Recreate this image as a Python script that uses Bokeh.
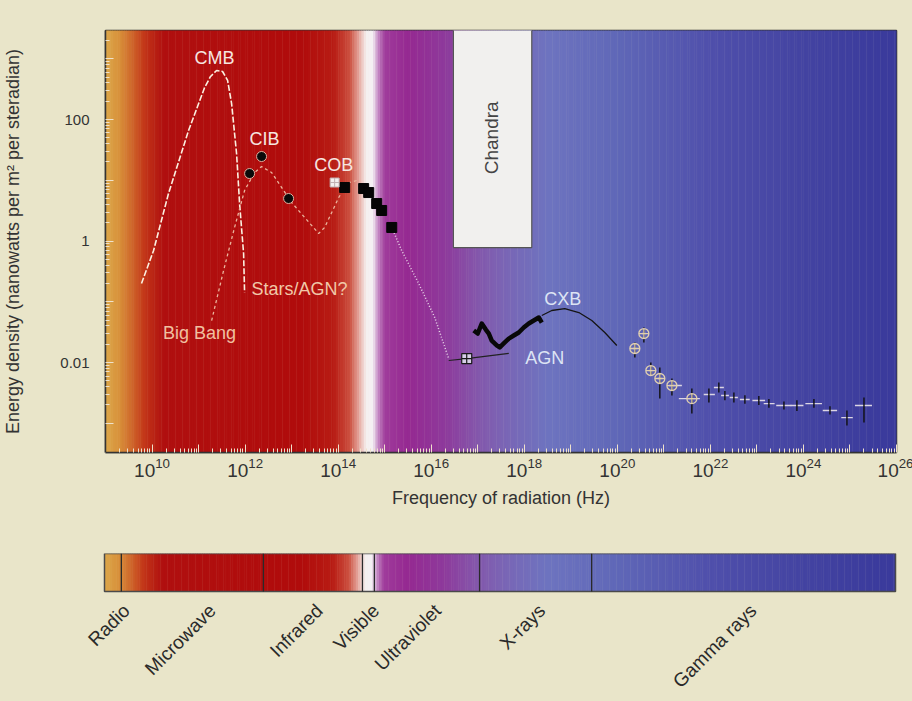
import numpy as np
from bokeh.plotting import figure
from bokeh.models import Range1d, FixedTicker, LogTickFormatter
from bokeh.embed import file_html
from bokeh.resources import INLINE
from bokeh.core.properties import value

# ---------------- data (frequency in Hz, energy density in nW m^-2 sr^-1) ----------------
cmb_freq = [5.94e9, 1.08e10, 2.26e10, 6.10e10, 1.35e11, 1.81e11, 2.44e11, 3.28e11, 4.21e11,
            5.13e11, 6.56e11, 7.62e11, 9.29e11, 9.75e11]
cmb_energy = [0.200, 0.698, 6.05, 65.9, 336, 511, 641, 617, 439, 183, 27.5, 4.14, 0.622, 0.142]

stars_freq = [1.91e11, 3.45e11, 5.94e11, 9.75e11, 1.60e12, 2.26e12, 3.72e12, 1.0e13, 1.91e13,
              3.81e13, 5.13e13, 1.03e14, 1.52e14, 2.50e14]
stars_energy = [0.0491, 0.327, 1.67, 6.78, 13.4, 16.8, 13.4, 4.31, 2.44, 1.33, 1.67, 5.20, 8.85, 9.91]

cib_freq = [1.25e12, 2.26e12, 8.61e12]
cib_energy = [12.9, 24.6, 5.01]

cob_open_freq = [8.41e13]
cob_open_energy = [9.18]
cob_freq = [1.38e14, 3.53e14, 4.53e14, 6.73e14, 8.61e14, 1.42e15]
cob_energy = [7.60, 7.31, 6.28, 4.14, 3.18, 1.67]

uv_freq = [1.42e15, 2.32e15, 5.38e15, 1.19e16, 2.38e16]
uv_energy = [1.67, 0.698, 0.200, 0.0551, 0.0116]

agn_freq = [2.38e16, 5.80e16, 4.65e17]
agn_energy = [0.0108, 0.0116, 0.0141]
agn_point_freq = [5.80e16]
agn_point_energy = [0.0116]

cxb_data_freq = [8.20e16, 1.0e17, 1.22e17, 1.49e17, 1.73e17, 2.00e17, 2.56e17, 2.97e17, 3.62e17,
                 4.65e17, 5.94e17, 7.62e17, 9.75e17, 1.25e18, 1.60e18, 2.05e18, 2.38e18]
cxb_data_energy = [0.0337, 0.0300, 0.0439, 0.0349, 0.0300, 0.0230, 0.0191, 0.0177, 0.0206,
                   0.0248, 0.0278, 0.0312, 0.0377, 0.0439, 0.0491, 0.0551, 0.0455]

cxb_model_freq = [2.38e18, 3.90e18, 7.43e18, 1.49e19, 2.83e19, 5.38e19, 9.75e19]
cxb_model_energy = [0.0594, 0.0718, 0.0774, 0.0665, 0.0491, 0.0312, 0.0191]

gamma_freq = [2.38e20, 3.72e20, 5.25e20, 8.20e20, 1.49e21, 4.0e21, 9.29e21, 1.52e22, 2.05e22,
              3.2e22, 5.52e22, 1.10e23, 1.81e23, 3.81e23, 7.24e23, 1.68e24, 3.72e24, 8.61e24, 2.0e25]
gamma_energy = [0.0170, 0.0300, 0.00738, 0.00546, 0.00418, 0.00255, 0.00297, 0.00387, 0.00286,
                0.00265, 0.00246, 0.00237, 0.00211, 0.00196, 0.00196, 0.00211, 0.00162, 0.00124, 0.00196]
gamma_low = [0.0121, 0.0213, 0.00611, 0.00255, 0.00286, 0.00145, 0.0022, 0.00321, 0.0024,
             0.0022, 0.0021, 0.0020, 0.0018, 0.00168, 0.0016, 0.0018, 0.0014, 0.00092, 0.00103]
gamma_high = [0.0213, 0.0377, 0.0100, 0.00828, 0.00546, 0.00373, 0.00373, 0.00469, 0.0034,
              0.0032, 0.0029, 0.0028, 0.0025, 0.00228, 0.0024, 0.0025, 0.0019, 0.00162, 0.00265]
gamma_freq_low = [2.2e20, 3.45e20, 4.9e20, 7.6e20, 1.28e21, 2.10e21, 7.2e21, 1.19e22, 1.7e22,
                  2.6e22, 4.3e22, 8.0e22, 1.4e23, 2.6e23, 5.3e23, 1.1e24, 2.6e24, 6.5e24, 1.28e25]
gamma_freq_high = [2.55e20, 4.0e20, 5.6e20, 8.8e20, 2.44e21, 5.94e21, 1.25e22, 1.95e22, 2.5e22,
                   3.9e22, 7.0e22, 1.5e23, 2.4e23, 5.5e23, 1.0e24, 2.5e24, 5.3e24, 1.15e25, 2.97e25]
gamma_circled = 6   # first points drawn with circled markers

chandra_band = [3.0e16, 1.45e18]
chandra_floor = 0.78

# background colour stops (log10 frequency, colour)
bg_stop_exp = [9.0, 9.3, 9.55, 9.85, 10.25, 13.2, 13.9, 14.25, 14.45, 14.6, 14.75, 14.85, 15.0,
               15.5, 16.3, 17.0, 17.6, 18.5, 20.0, 22.0, 24.0, 26.0]
bg_stop_color = ["#dca84a", "#d8903a", "#d06a2c", "#c23418", "#b01010", "#b00c0c", "#b81c14",
                 "#cc5040", "#e6a8a0", "#f6f0f0", "#f4f0f4", "#c890c8", "#a03c9c", "#962a92",
                 "#8e3a9c", "#8458ac", "#7a66b6", "#6e74c0", "#6068b8", "#5050ac", "#4444a2", "#3a3a9c"]

band_edges = [2.3e9, 2.6e12, 3.5e14, 6.3e14, 1.15e17, 2.95e19]
band_names = ["Radio", "Microwave", "Infrared", "Visible", "Ultraviolet", "X-rays", "Gamma rays"]
band_label_freq = [2.97e9, 2.09e11, 4.17e13, 6.8e14, 1.45e16, 2.5e18, 8.7e22]

x_tick_exponents = list(range(9, 27))
y_tick_exponents = list(range(-3, 4))
y_tick_text = {0.01: "0.01", 1.0: "1", 100.0: "100"}

# ---------------- styling constants ----------------
FONT = value("Liberation Sans")
PAPER = "#e9e5c9"
INK = "#333333"

XMIN_EXP, XMAX_EXP = 9.0, 26.0
YMIN_EXP, YMAX_EXP = -3.481, 3.465
FRAME_W, FRAME_H = 791, 422
LEFT, RIGHT, TOP, BOTTOM = 104, 17, 30, 63
PAGE_W = LEFT + FRAME_W + RIGHT


def hex_to_rgb(h):
    return [int(h[i:i + 2], 16) for i in (1, 3, 5)]


stop_rgb = np.array([hex_to_rgb(c) for c in bg_stop_color], dtype=float)
edges = np.linspace(XMIN_EXP, XMAX_EXP, 341)
mids = 0.5 * (edges[:-1] + edges[1:])
slice_colors = []
for m in mids:
    r, g, b = (np.interp(m, bg_stop_exp, stop_rgb[:, k]) for k in range(3))
    slice_colors.append("#%02x%02x%02x" % (int(r), int(g), int(b)))
slice_left = list(10.0 ** edges[:-1])
slice_right = list(10.0 ** (edges[1:] + 0.01))

# ---------------- main figure ----------------
p = figure(frame_width=FRAME_W, frame_height=FRAME_H, x_axis_type="log", y_axis_type="log",
           x_range=Range1d(10 ** XMIN_EXP, 10 ** XMAX_EXP),
           y_range=Range1d(10 ** YMIN_EXP, 10 ** YMAX_EXP),
           min_border_left=LEFT, min_border_right=RIGHT, min_border_top=TOP,
           min_border_bottom=BOTTOM, toolbar_location=None, output_backend="svg")
p.border_fill_color = PAPER
p.background_fill_color = PAPER
p.outline_line_color = INK
p.outline_line_width = 1.5
p.grid.visible = False

# background gradient
p.quad(left=slice_left, right=slice_right, bottom=1e-5, top=1e5,
       fill_color=slice_colors, line_color=None)

# Chandra band
p.quad(left=[chandra_band[0]], right=[chandra_band[1]], bottom=[chandra_floor], top=[1e5],
       fill_color="#f1f0ee", line_color="#555555", line_width=1.2)
p.text(x=[10 ** 17.30], y=[50], text=["Chandra"], angle=np.pi / 2, text_align="center",
       text_baseline="middle", text_font=FONT, text_font_size="19px", text_color="#444444")

# CMB
p.line(cmb_freq, cmb_energy, line_color="#fbf0e0", line_width=1.6, line_dash="6 2")
# stars / CIB-COB model
p.line(stars_freq, stars_energy, line_color="#eab49c", line_width=1.3, line_dash="3 3")
# UV fall-off
p.line(uv_freq, uv_energy, line_color="#e8d6e8", line_width=1.5, line_dash="1 2")
# AGN model
p.line(agn_freq, agn_energy, line_color="#222222", line_width=1.2)
# CXB model and data
p.line(cxb_model_freq, cxb_model_energy, line_color="#151515", line_width=1.3)
p.line(cxb_data_freq, cxb_data_energy, line_color="#080808", line_width=4.5, line_join="round")

# CIB / COB points
p.scatter(cib_freq, cib_energy, marker="circle", size=10, fill_color="#0a0a0a",
          line_color="#e0b0a0", line_width=1)
p.scatter(cob_freq, cob_energy, marker="square", size=10, fill_color="#050505", line_color="#050505")
p.scatter(cob_open_freq, cob_open_energy, marker="square_cross", size=9, fill_color="#f4f0ee",
          line_color="#c0b0b0", line_width=1)
p.scatter(agn_point_freq, agn_point_energy, marker="square_cross", size=10, fill_color="#d8d0e8",
          line_color="#1a1a1a", line_width=1.2)

# gamma-ray points with error bars
p.segment(x0=gamma_freq_low, y0=gamma_energy, x1=gamma_freq_high, y1=gamma_energy,
          line_color="#dcd6e4", line_width=1.4)
p.segment(x0=gamma_freq, y0=gamma_low, x1=gamma_freq, y1=gamma_high,
          line_color="#101010", line_width=1.4)
p.scatter(gamma_freq[:gamma_circled], gamma_energy[:gamma_circled], marker="circle_cross",
          size=10, fill_alpha=0, line_color="#e0cfb0", line_width=1.3)

# curve labels
p.text(x=[10 ** 11.344, 10 ** 12.419, 10 ** 13.903], y=[10 ** 3.02, 10 ** 1.671, 10 ** 1.259],
       text=["CMB", "CIB", "COB"], text_align="center", text_baseline="middle",
       text_font=FONT, text_font_size="18px", text_color="#f6e6e0")
p.text(x=[10 ** 12.14], y=[10 ** -0.782], text=["Stars/AGN?"], text_align="left",
       text_baseline="middle", text_font=FONT, text_font_size="18px", text_color="#f0c8a8")
p.text(x=[10 ** 11.022], y=[10 ** -1.506], text=["Big Bang"], text_align="center",
       text_baseline="middle", text_font=FONT, text_font_size="18px", text_color="#f0c0a0")
p.text(x=[10 ** 18.828, 10 ** 18.441], y=[10 ** -0.947, 10 ** -1.918], text=["CXB", "AGN"],
       text_align="center", text_baseline="middle", text_font=FONT, text_font_size="18px",
       text_color="#dde4f4")

# axes
xmaj = [10.0 ** k for k in x_tick_exponents]
xmin = [m * 10.0 ** k for k in x_tick_exponents[:-1] for m in range(2, 10)]
p.xaxis.ticker = FixedTicker(ticks=xmaj, minor_ticks=xmin)
p.xaxis.formatter = LogTickFormatter()
p.xaxis.major_label_overrides = {10.0 ** k: "" for k in x_tick_exponents if k % 2 == 1}
ymaj = [10.0 ** k for k in y_tick_exponents]
ymin = [m * 10.0 ** k for k in y_tick_exponents[:-1] for m in range(2, 10)] + [2000.0]
p.yaxis.ticker = FixedTicker(ticks=ymaj, minor_ticks=ymin)
p.yaxis.major_label_overrides = {t: y_tick_text.get(t, "") for t in ymaj}

for ax in (p.xaxis[0], p.yaxis[0]):
    ax.axis_line_color = INK
    ax.axis_line_width = 1.5
    ax.major_tick_in = 8
    ax.major_tick_out = 0
    ax.minor_tick_in = 4
    ax.minor_tick_out = 0
    ax.major_tick_line_color = "#efe2cc"
    ax.minor_tick_line_color = "#efe2cc"
    ax.major_label_text_font = "Liberation Sans"
    ax.major_label_text_color = INK
    ax.axis_label_text_font = "Liberation Sans"
    ax.axis_label_text_font_style = "normal"
    ax.axis_label_text_font_size = "18px"
    ax.axis_label_text_color = INK

p.xaxis.axis_label = "Frequency of radiation (Hz)"
p.xaxis.major_label_text_font_size = "19px"
p.xaxis.major_label_standoff = 5
p.xaxis.axis_label_standoff = 8
p.yaxis.axis_label = "Energy density (nanowatts per m\u00b2 per steradian)"
p.yaxis.major_label_text_font_size = "15px"
p.yaxis.major_label_standoff = 16
p.yaxis.axis_label_standoff = 34

# ---------------- spectrum bar ----------------
BAR_TOP_BORDER = 38
BAR_FRAME_H = 148
BAR_PX = 38
px_per_dec = FRAME_W / (XMAX_EXP - XMIN_EXP)
bar_xmin = XMIN_EXP - LEFT / px_per_dec
bar_xmax = XMAX_EXP + RIGHT / px_per_dec
bar = figure(frame_width=PAGE_W, frame_height=BAR_FRAME_H, x_axis_type="log",
             x_range=Range1d(10 ** bar_xmin, 10 ** bar_xmax),
             y_range=Range1d(-(BAR_FRAME_H - BAR_PX) / BAR_PX, 1),
             x_axis_location=None, y_axis_location=None,
             min_border_left=0, min_border_right=0, min_border_top=BAR_TOP_BORDER,
             min_border_bottom=0, toolbar_location=None, output_backend="svg")
bar.border_fill_color = PAPER
bar.background_fill_color = PAPER
bar.outline_line_color = None
bar.grid.visible = False

bar.quad(left=slice_left, right=slice_right, bottom=0, top=1, fill_color=slice_colors, line_color=None)
bar.quad(left=[10 ** XMIN_EXP], right=[10 ** XMAX_EXP], bottom=[0], top=[1],
         fill_alpha=0, line_color="#4a4a4a", line_width=1.5)
bar.segment(x0=band_edges, y0=0, x1=band_edges, y1=1, line_color="#2a2a2a", line_width=1.3)
bar.text(x=band_label_freq, y=-0.42, text=band_names, angle=np.pi / 4, text_align="right",
         text_baseline="middle", text_font=FONT, text_font_size="19px", text_color="#2a2a2a")

html = file_html([p, bar], INLINE, title="Extragalactic background light")
html = html.replace("<head>", "<head><style>body{background:%s;}</style>" % PAPER, 1)
open("out.html", "w").write(html)
